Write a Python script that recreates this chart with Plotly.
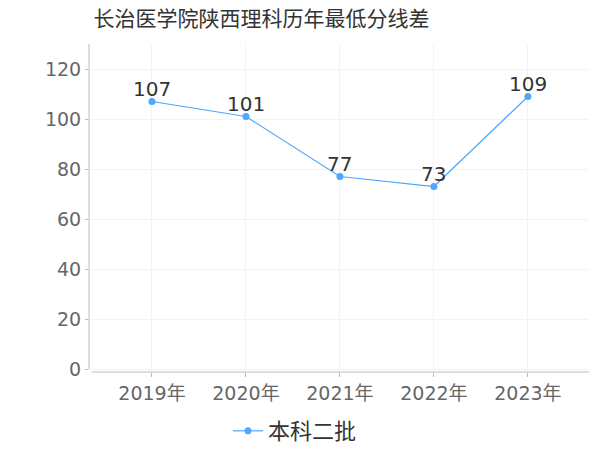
import plotly.graph_objects as go

years = ["2019年", "2020年", "2021年", "2022年", "2023年"]
scores = [107, 101, 77, 73, 109]
series_name = "本科二批"
title = "长治医学院陕西理科历年最低分线差"
y_ticks = [0, 20, 40, 60, 80, 100, 120]

CJK = "Noto Sans CJK SC, sans-serif"
NUM = "DejaVu Sans, Noto Sans CJK SC, sans-serif"
LINE = "#4da6ff"

fig = go.Figure()
fig.add_trace(go.Scatter(
    x=years, y=scores, name=series_name,
    mode="lines+markers",
    line=dict(color=LINE, width=1.2),
    marker=dict(color=LINE, size=7),
    cliponaxis=False,
))

for xv, yv in zip(years, scores):
    fig.add_annotation(x=xv, y=yv, text=str(yv), showarrow=False,
                       xanchor="center", yanchor="bottom", yshift=-1,
                       font=dict(size=20, color="#333333", family=NUM))

# y axis line (ends at value 0) and x axis line slightly below
fig.add_shape(type="line", xref="paper", yref="y", x0=0, x1=0, y0=0, y1=130,
              line=dict(color="#bbbbbb", width=1))
fig.add_shape(type="line", xref="paper", yref="paper", x0=0.006, x1=1, y0=0, y1=0,
              line=dict(color="#bbbbbb", width=1))

fig.update_layout(
    width=600, height=450,
    margin=dict(l=89, r=11, t=44, b=78, autoexpand=False),
    paper_bgcolor="white", plot_bgcolor="white",
    title=dict(text=title, x=261.5 / 600, xanchor="center", y=1 - 19 / 450, yanchor="middle",
               font=dict(size=21, color="#333333", family=CJK)),
    font=dict(family=CJK),
    showlegend=True,
    legend=dict(orientation="h", x=(228 - 89) / 500, xanchor="left",
                yref="container", y=1 - 431 / 450, yanchor="middle",
                font=dict(size=22, color="#333333", family=CJK)),
    xaxis=dict(
        range=[-0.67, 4.65], automargin=False,
        showgrid=True, gridcolor="#f3f3f3", gridwidth=1,
        showline=False,
        ticks="outside", ticklen=4, tickcolor="#bbbbbb",
        tickfont=dict(size=19, color="#666666", family=NUM),
        zeroline=False,
    ),
    yaxis=dict(
        range=[-1.2, 130], automargin=False,
        tickvals=y_ticks,
        showgrid=True, gridcolor="#f3f3f3", gridwidth=1,
        showline=False,
        ticks="outside", ticklen=3, tickcolor="#bbbbbb",
        tickfont=dict(size=19, color="#666666", family=NUM),
        zeroline=False,
    ),
)

fig.write_html("out.html", config={"displayModeBar": False},
               post_script="document.body.style.margin='0';")
